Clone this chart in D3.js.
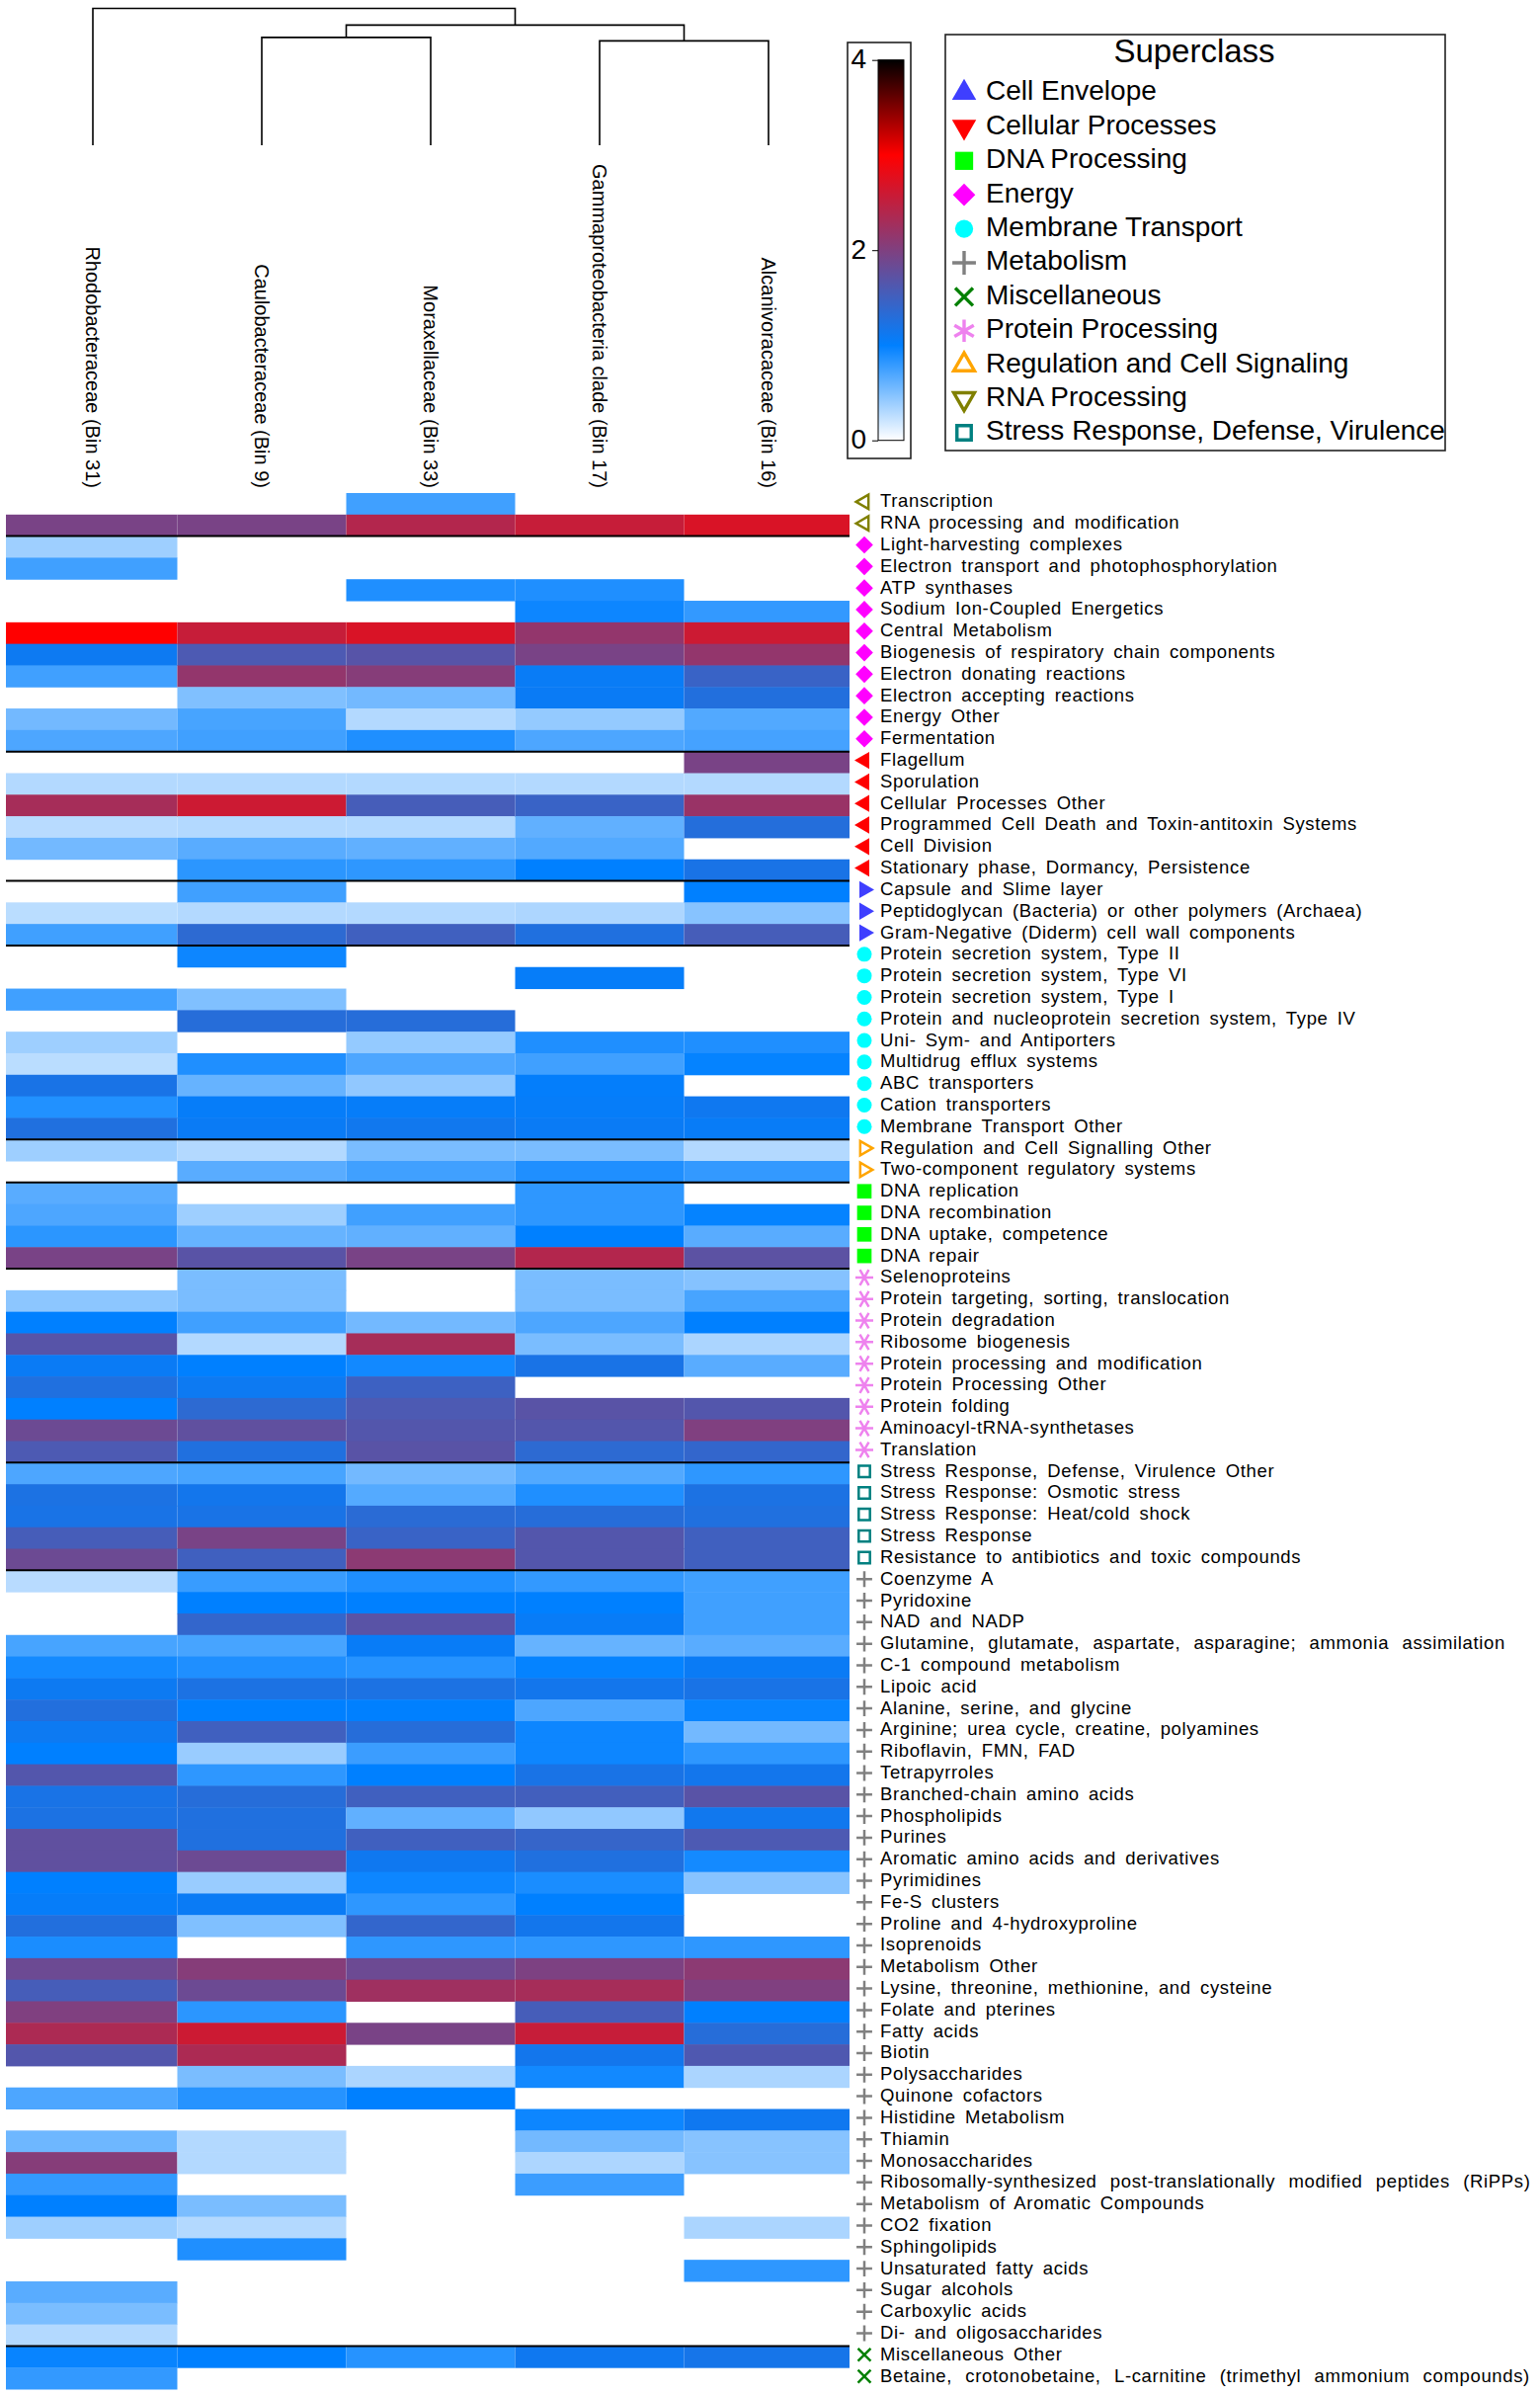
<!DOCTYPE html>
<html>
<head>
<meta charset="utf-8">
<script src="https://cdn.jsdelivr.net/npm/d3@7"></script>
<style>
  html, body { margin: 0; padding: 0; background: #fff; }
  text { font-family: "Liberation Sans", Arial, sans-serif; fill: #000; }
</style>
</head>
<body>
<div id="container"></div>
<script>
const taxa = ['Rhodobacteraceae (Bin 31)', 'Caulobacteraceae (Bin 9)', 'Moraxellaceae (Bin 33)', 'Gammaproteobacteria clade (Bin 17)', 'Alcanivoracaceae (Bin 16)'];

const pathways = [
  'Transcription', 'RNA processing and modification', 'Light-harvesting complexes', 'Electron transport and photophosphorylation',
  'ATP synthases', 'Sodium Ion-Coupled Energetics', 'Central Metabolism', 'Biogenesis of respiratory chain components',
  'Electron donating reactions', 'Electron accepting reactions', 'Energy Other', 'Fermentation',
  'Flagellum', 'Sporulation', 'Cellular Processes Other', 'Programmed Cell Death and Toxin-antitoxin Systems', 'Cell Division', 'Stationary phase, Dormancy, Persistence',
  'Capsule and Slime layer', 'Peptidoglycan (Bacteria) or other polymers (Archaea)', 'Gram-Negative (Diderm) cell wall components',
  'Protein secretion system, Type II', 'Protein secretion system, Type VI', 'Protein secretion system, Type I', 'Protein and nucleoprotein secretion system, Type IV',
  'Uni- Sym- and Antiporters', 'Multidrug efflux systems', 'ABC transporters', 'Cation transporters', 'Membrane Transport Other',
  'Regulation and Cell Signalling Other', 'Two-component regulatory systems',
  'DNA replication', 'DNA recombination', 'DNA uptake, competence', 'DNA repair',
  'Selenoproteins', 'Protein targeting, sorting, translocation', 'Protein degradation', 'Ribosome biogenesis', 'Protein processing and modification',
  'Protein Processing Other', 'Protein folding', 'Aminoacyl-tRNA-synthetases', 'Translation',
  'Stress Response, Defense, Virulence Other', 'Stress Response: Osmotic stress', 'Stress Response: Heat/cold shock', 'Stress Response', 'Resistance to antibiotics and toxic compounds',
  'Coenzyme A', 'Pyridoxine', 'NAD and NADP', 'Glutamine, glutamate, aspartate, asparagine; ammonia assimilation', 'C-1 compound metabolism', 'Lipoic acid',
  'Alanine, serine, and glycine', 'Arginine; urea cycle, creatine, polyamines', 'Riboflavin, FMN, FAD', 'Tetrapyrroles', 'Branched-chain amino acids', 'Phospholipids',
  'Purines', 'Aromatic amino acids and derivatives', 'Pyrimidines', 'Fe-S clusters', 'Proline and 4-hydroxyproline', 'Isoprenoids', 'Metabolism Other',
  'Lysine, threonine, methionine, and cysteine', 'Folate and pterines', 'Fatty acids', 'Biotin', 'Polysaccharides', 'Quinone cofactors', 'Histidine Metabolism',
  'Thiamin', 'Monosaccharides', 'Ribosomally-synthesized post-translationally modified peptides (RiPPs)', 'Metabolism of Aromatic Compounds', 'CO2 fixation',
  'Sphingolipids', 'Unsaturated fatty acids', 'Sugar alcohols', 'Carboxylic acids', 'Di- and oligosaccharides',
  'Miscellaneous Other', 'Betaine, crotonobetaine, L-carnitine (trimethyl ammonium compounds)'
];

// these few are set with very wide gaps between words in the original
const wideLabels = [
  'Glutamine, glutamate, aspartate, asparagine; ammonia assimilation',
  'Ribosomally-synthesized post-translationally modified peptides (RiPPs)',
  'Betaine, crotonobetaine, L-carnitine (trimethyl ammonium compounds)'
];

// superclass of each run of rows, and how many rows it has
const superclasses = ['Cell Envelope', 'Cellular Processes', 'DNA Processing', 'Energy', 'Membrane Transport', 'Metabolism', 'Miscellaneous', 'Protein Processing', 'Regulation and Cell Signaling', 'RNA Processing', 'Stress Response, Defense, Virulence'];
const groupOrder = ['RNA Processing', 'Energy', 'Cellular Processes', 'Cell Envelope', 'Membrane Transport', 'Regulation and Cell Signaling', 'DNA Processing', 'Protein Processing', 'Stress Response, Defense, Virulence', 'Metabolism', 'Miscellaneous'];
const groupSizes = [2, 10, 6, 3, 9, 2, 4, 9, 5, 36, 2];

// 0 = not detected (drawn white)
const rhodo = [0,1.95,.38,.75,0,0,3,1.1,.75,0,.55,.7, 0,.3,2.3,.28,.55,0, 0,.27,.75, 0,0,.75,0,.38,.27,1.2,.87,1.25, .38,0, .65,.7,.83,1.95,
  0,.45,1,1.68,1.08,1.25,1,1.85,1.6, .7,1.22,1.2,1.55,1.85,
  .28,0,0,.72,.92,1.1,1.27,1.1,1,1.65,1.2,1.22,1.75,1.75,1,1.05,1.27,.9,1.85,1.55,2,2.35,1.65,0,.7,0,.57,2.05,.8,1,.38,0,0,.65,.52,.3, .97,.8];
const caulo = [0,1.95,0,0,0,0,2.55,1.6,2.15,.5,.72,.75, 0,.3,2.6,.3,.65,.83, .75,.3,1.35, .95,0,.5,1.3,0,.88,.6,1.05,1.08, .3,.65, 0,.38,.6,1.7,
  .52,.52,.75,.3,1,1.1,1.35,1.75,1.25, .72,1.15,1.2,1.95,1.5,
  .78,1,1.4,.72,.88,1.22,1,1.5,.4,.82,1.3,1.25,1.25,1.85,.4,1.08,.5,0,2.05,1.85,.83,2.6,2.35,.52,.85,0,.3,.3,0,.52,.3,.88,0,0,0,0, 1,0];
const morax = [.75,2.4,0,0,.88,0,2.7,1.68,2.05,.55,.3,.88, 0,.3,1.55,.3,.62,.82, 0,.3,1.5, 0,0,0,1.3,.42,.7,.43,1.05,1.13, .52,.75, 0,.75,.62,1.95,
  0,0,.55,2.3,.93,1.48,1.6,1.65,1.7, .55,.67,1.33,1.45,2.1,
  .88,1,1.7,1.06,.85,1.22,1,1.3,.77,1,1.5,.62,1.5,1.12,.95,.82,1.4,.82,1.85,2.25,0,1.95,0,.33,1,0,0,0,0,0,0,0,0,0,0,0, .85,0];
const gamma = [0,2.55,0,0,.88,.95,2.15,1.95,1.07,1.08,.42,.7, 0,.3,1.45,.62,.68,1, 0,.32,1.25, 0,1.05,0,0,.88,.75,1.03,1.05,1.08, .52,.88, .82,.82,1,2.4,
  .52,.52,.7,.52,1.2,0,1.7,1.65,1.35, .68,.88,1.3,1.65,1.65,
  .8,1,1.06,.6,.98,1.15,.7,.95,.95,1.2,1.52,.43,1.42,1.25,.9,1,1.15,.82,1.98,2.3,1.55,2.55,1.15,.93,0,.95,.55,.32,.77,0,0,0,0,0,0,0, 1.12,0];
const alca = [0,2.7,0,0,0,.8,2.6,2.15,1.45,1.27,.68,.73, 1.95,.3,2.2,1.28,0,1.2, 1,.47,1.55, 0,0,0,0,.88,.98,0,1.12,1.06, .3,.8, 0,.98,.65,1.72,
  .48,.72,1,.33,.65,0,1.65,2,1.4, .82,1.22,1.25,1.5,1.5,
  .75,.75,.75,.65,1.08,1.2,.97,.55,.82,1.15,1.7,1.13,1.6,.92,.47,0,0,.82,2.1,2,1,1.3,1.62,.33,0,1.12,.47,.47,0,0,.33,0,.82,0,0,0, 1.17,0];
const columns = [rhodo, caulo, morax, gamma, alca];

const colorStops = [0, 1, 3, 4];
const colorRange = ['#ffffff', '#0080ff', '#ff0000', '#000000'];
const colorTicks = [0, 2, 4];

const dendroHeights = [1, 0.878, 0.788, 0.763];

const width = 1559, height = 2424;
const plotLeft = 6, plotRight = 860;

const svg = d3.select('#container').append('svg')
  .attr('width', width)
  .attr('height', height)
  .style('display', 'block');

const x = d3.scaleBand().domain(taxa).range([8.5, 863.5]);
const y = d3.scaleBand().domain(pathways).range([499, 2418]);
const color = d3.scaleLinear().domain(colorStops).range(colorRange).interpolate(d3.interpolateRgb);
const cx = (name) => x(name) + x.bandwidth() / 2;

const symbolDefs = {
  'Cell Envelope': { type: d3.symbolTriangle, fill: '#3f3fff', rot: 0, big: 260, small: 130 },
  'Cellular Processes': { type: d3.symbolTriangle, fill: '#ff0000', rot: 180, big: 260, small: 130 },
  'DNA Processing': { type: d3.symbolSquare, fill: '#00ff00', rot: 0, big: 335, small: 215 },
  'Energy': { type: d3.symbolSquare, fill: '#ff00ff', rot: 45, big: 257, small: 156 },
  'Membrane Transport': { type: d3.symbolCircle, fill: '#00ffff', rot: 0, big: 263, small: 177 },
  'Metabolism': { type: d3.symbolPlus, stroke: '#808080', rot: 0, big: 188, small: 84 },
  'Miscellaneous': { type: d3.symbolX, stroke: '#008000', rot: 0, big: 212, small: 110 },
  'Protein Processing': { type: d3.symbolAsterisk, stroke: '#ee82ee', rot: 0, big: 360, small: 229 },
  'Regulation and Cell Signaling': { type: d3.symbolTriangle, stroke: '#ffa500', rot: 0, big: 190, small: 90 },
  'RNA Processing': { type: d3.symbolTriangle, stroke: '#808000', rot: 180, big: 190, small: 90 },
  'Stress Response, Defense, Virulence': { type: d3.symbolSquare, stroke: '#008080', rot: 0, big: 210, small: 130 }
};

function drawSymbol(g, name, px, py, size, sw, extraRot) {
  const s = symbolDefs[name];
  g.append('path')
    .attr('d', d3.symbol().type(s.type).size(size)())
    .attr('transform', `translate(${px},${py}) rotate(${s.rot + extraRot})`)
    .attr('fill', s.fill || 'none')
    .attr('stroke', s.stroke || 'none')
    .attr('stroke-width', s.stroke ? sw : 0);
}

// heat cells
const cells = svg.append('g');
columns.forEach((col, c) => {
  const x0 = c === 0 ? plotLeft : x(taxa[c]);
  const x1 = Math.min(x(taxa[c]) + x.bandwidth(), plotRight);
  cells.selectAll(null)
    .data(col)
    .enter()
    .append('rect')
    .attr('x', x0)
    .attr('y', (d, i) => y(pathways[i]))
    .attr('width', x1 - x0)
    .attr('height', y.bandwidth() + 0.5)
    .attr('fill', (d) => d > 0 ? color(d) : 'none');
});

// separators between superclasses + row markers
let rowIndex = 0;
const rowMarks = svg.append('g');
groupOrder.forEach((group, g) => {
  const rows = pathways.slice(rowIndex, rowIndex + groupSizes[g]);
  rows.forEach((p) => {
    drawSymbol(rowMarks, group, 875, y(p) + y.bandwidth() / 2 - 2, symbolDefs[group].small, 2.5, 90);
  });
  rowIndex += groupSizes[g];
  if (g < groupOrder.length - 1) {
    const ly = y(rows[rows.length - 1]) + y.bandwidth();
    svg.append('line')
      .attr('x1', plotLeft).attr('x2', plotRight)
      .attr('y1', ly).attr('y2', ly)
      .attr('stroke', '#000').attr('stroke-width', 2);
  }
});

// row labels
svg.append('g').selectAll('text')
  .data(pathways)
  .enter()
  .append('text')
  .attr('x', 891)
  .attr('y', (d) => y(d) + y.bandwidth() / 2 - 3)
  .attr('dy', '0.35em')
  .attr('font-size', 18.5)
  .style('letter-spacing', '0.65px')
  .style('word-spacing', (d) => wideLabels.includes(d) ? '7.5px' : '3.5px')
  .text((d) => d);

// column labels, rotated to read downwards
svg.append('g').selectAll('text')
  .data(taxa)
  .enter()
  .append('text')
  .attr('transform', (d) => `translate(${cx(d)},494) rotate(90)`)
  .attr('text-anchor', 'end')
  .attr('dy', '0.35em')
  .attr('font-size', 20)
  .text((d) => d);

// dendrogram
const dy = d3.scaleLinear().domain([0, 1]).range([147, 8.5]);
const tree = {
  h: dendroHeights[0],
  kids: [
    { leaf: taxa[0] },
    { h: dendroHeights[1], kids: [
      { h: dendroHeights[2], kids: [{ leaf: taxa[1] }, { leaf: taxa[2] }] },
      { h: dendroHeights[3], kids: [{ leaf: taxa[3] }, { leaf: taxa[4] }] }
    ] }
  ]
};
const dendro = svg.append('g').attr('fill', 'none').attr('stroke', '#000').attr('stroke-width', 1.6);
function layout(node) {
  if (node.leaf) return { px: cx(node.leaf), py: dy(0) };
  const a = layout(node.kids[0]), b = layout(node.kids[1]);
  const top = dy(node.h);
  dendro.append('path').attr('d', d3.line()([[a.px, a.py], [a.px, top], [b.px, top], [b.px, b.py]]));
  return { px: (a.px + b.px) / 2, py: top };
}
layout(tree);

// colour key
svg.append('rect')
  .attr('x', 858).attr('y', 43).attr('width', 64).attr('height', 421)
  .attr('fill', 'none').attr('stroke', '#222').attr('stroke-width', 1.6);

const defs = svg.append('defs');
const grad = defs.append('linearGradient').attr('id', 'key').attr('x1', 0).attr('x2', 0).attr('y1', 1).attr('y2', 0);
colorStops.forEach((s, i) => {
  grad.append('stop').attr('offset', s / 4).attr('stop-color', colorRange[i]);
});
const keyY = d3.scaleLinear().domain([0, 4]).range([445.7, 60.7]);
svg.append('rect')
  .attr('x', 889).attr('y', keyY(4)).attr('width', 26).attr('height', keyY(0) - keyY(4))
  .attr('fill', 'url(#key)').attr('stroke', '#000').attr('stroke-width', 1);
const keyAxis = svg.append('g').attr('transform', 'translate(889,0)')
  .call(d3.axisLeft(keyY).tickValues(colorTicks).tickSize(6).tickFormat(d3.format('d')));
keyAxis.select('.domain').remove();
keyAxis.selectAll('text').attr('x', -12).attr('font-size', 28).attr('font-family', '"Liberation Sans", Arial, sans-serif').attr('text-anchor', 'end').attr('dy', '0.28em');

// legend
const lx = 957, lw = 506;
svg.append('rect')
  .attr('x', lx).attr('y', 35).attr('width', lw).attr('height', 421)
  .attr('fill', 'none').attr('stroke', '#222').attr('stroke-width', 1.6);
svg.append('text')
  .attr('x', lx + lw / 2 - 1).attr('y', 63)
  .attr('text-anchor', 'middle').attr('font-size', 33)
  .text('Superclass');
const legendY = d3.scalePoint().domain(superclasses).range([94, 438]);
superclasses.forEach((name) => {
  drawSymbol(svg, name, 976, legendY(name), symbolDefs[name].big, 3.4, 0);
  svg.append('text')
    .attr('x', 998).attr('y', legendY(name) - 2.5)
    .attr('dy', '0.35em').attr('font-size', 28)
    .text(name);
});
</script>
</body>
</html>
